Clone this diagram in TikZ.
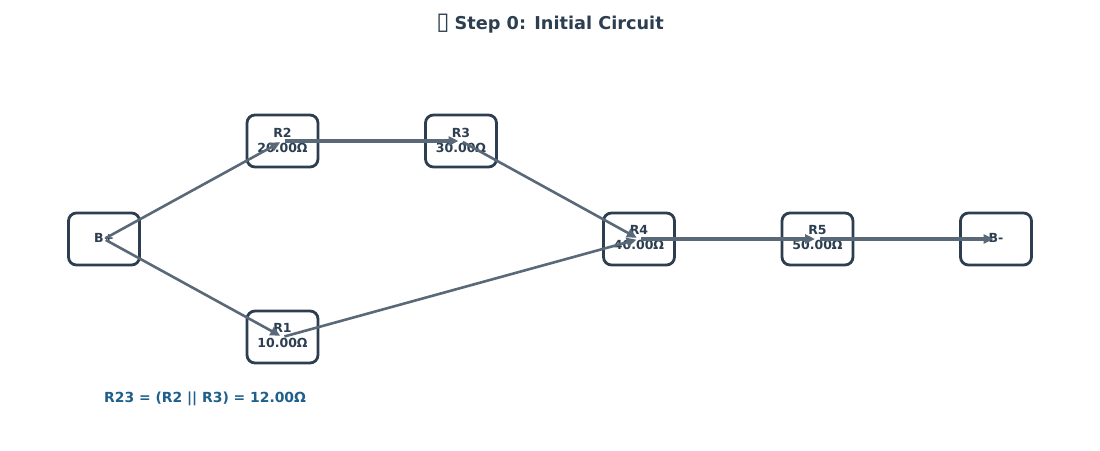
\documentclass[tikz,border=0pt]{standalone}
\usepackage{fontspec}
\setmainfont{DejaVu Sans}
\usetikzlibrary{arrows.meta}
\definecolor{navy}{HTML}{2C3E50}
\definecolor{wire}{HTML}{5A6978}
\definecolor{note}{HTML}{1F5F8B}
\tikzset{
  box/.style={draw=navy,line width=2.8pt,rounded corners=8pt,minimum width=71pt,minimum height=52pt,fill=white,inner sep=0pt},
  lab/.style={align=center,inner sep=0pt,text=navy,font=\fontsize{12.5}{15}\selectfont\bfseries},
  wirearrow/.style={draw=wire,line width=2.6pt,shorten <=2pt,shorten >=2.5pt,-{Triangle[length=10pt,width=9pt]}},
  flatwire/.style={wirearrow,line width=3.1pt},
}
\begin{document}
\begin{tikzpicture}[x=1pt,y=-1pt]
\useasboundingbox (0,0) rectangle (1100,450);
\node[box] (Bp) at (104,239) {};
\node[box] (R2) at (282.5,141) {};
\node[box] (R3) at (461,141) {};
\node[box] (R4) at (639,239) {};
\node[box] (R5) at (817.5,239) {};
\node[box] (Bm) at (996,239) {};
\node[box] (R1) at (282.5,337) {};
\node[lab] (tBp) at (104,238) {B+};
\node[lab] (tR2) at (282.5,140) {R2\\20.00Ω};
\node[lab] (tR3) at (461,140) {R3\\30.00Ω};
\node[lab] (tR4) at (639,238) {R4\\40.00Ω};
\node[lab] (tR5) at (817.5,238) {R5\\50.00Ω};
\node[lab] (tBm) at (996,238) {B-};
\node[lab] (tR1) at (282.5,336) {R1\\10.00Ω};
\draw[wirearrow] (Bp.center) -- (R2.center);
\draw[wirearrow] (Bp.center) -- (R1.center);
\draw[flatwire] (R2.center) -- (R3.center);
\draw[wirearrow] (R3.center) -- (R4.center);
\draw[wirearrow] (R1.center) -- (R4.center);
\draw[flatwire] (R4.center) -- (R5.center);
\draw[flatwire] (R5.center) -- (Bm.center);
\node[anchor=west,inner sep=0pt,text=note,font=\fontsize{13.9}{16}\selectfont\bfseries] (note) at (104,398.5) {R23 = (R2 || R3) = 12.00Ω};
\node[inner sep=0pt,text=navy,font=\fontsize{17.7}{20}\selectfont\bfseries] (title) at (550,23.5) {{\fontsize{24}{20}\selectfont ▯}\hspace{-1pt} Step 0: Initial Circuit};
\end{tikzpicture}
\end{document}
